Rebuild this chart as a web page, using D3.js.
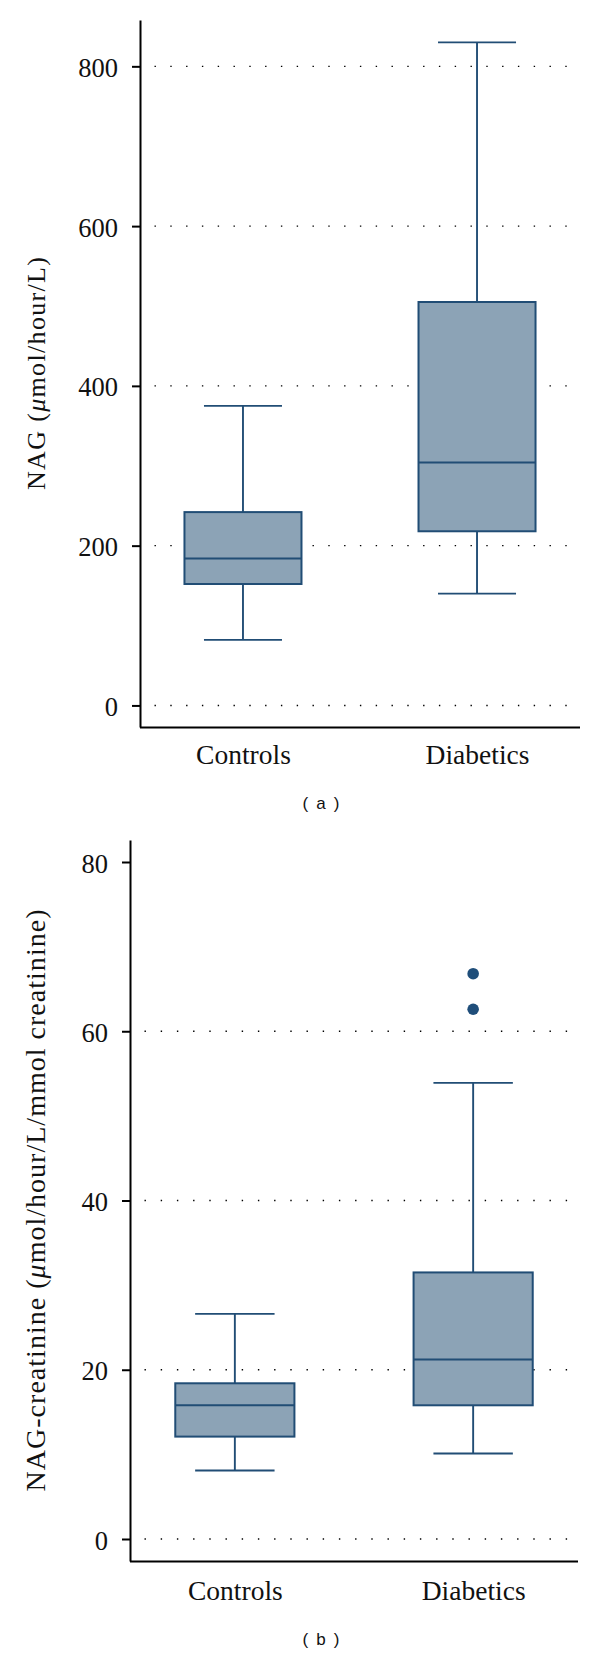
<!DOCTYPE html>
<html><head><meta charset="utf-8">
<script src="https://cdn.jsdelivr.net/npm/d3@7"></script>
<style>body{margin:0;background:#fff} svg{display:block}</style>
</head><body>
<svg id="chart" width="600" height="1656"></svg>
<script>
// ---- data ----
const categories = ["Controls", "Diabetics"];

// panel (a): NAG (µmol/hour/L)
const nagMin = [82, 140];
const nagQ1 = [152, 218];
const nagMedian = [184, 304];
const nagQ3 = [242, 505];
const nagMax = [375, 830];
const nagOutliers = [[], []];
const nagTicks = [0, 200, 400, 600, 800];
const nagGrid = [0, 200, 400, 600, 800];

// panel (b): NAG-creatinine (µmol/hour/L/mmol creatinine)
const ratioMin = [8.1, 10.1];
const ratioQ1 = [12.1, 15.8];
const ratioMedian = [15.8, 21.2];
const ratioQ3 = [18.4, 31.5];
const ratioMax = [26.6, 53.9];
const ratioOutliers = [[], [62.6, 66.8]];
const ratioTicks = [0, 20, 40, 60, 80];
const ratioGrid = [0, 20, 40, 60];

// ---- style ----
const FILL = "#8ca3b6";
const STROKE = "#214d75";
const SERIF = "'Liberation Serif', 'Times New Roman', serif";
const SANS = "'Liberation Sans', Arial, sans-serif";

const svg = d3.select("#chart");

function drawPanel(p) {
  const g = svg.append("g");
  const x = d3.scalePoint().domain(categories).range(p.xRange).padding(0.44);
  const y = d3.scaleLinear().domain(p.yDomain).range(p.yRange);
  const step = x.step();
  const boxW = step / 2, capW = step / 3;
  const x0 = p.xRange[0], x1 = p.xRange[1];

  // dotted grid
  g.append("g").selectAll("line").data(p.grid).join("line")
    .attr("x1", x0 + p.dotStart).attr("x2", x1)
    .attr("y1", d => y(d)).attr("y2", d => y(d))
    .attr("stroke", "#000").attr("stroke-width", 1.4)
    .attr("stroke-dasharray", `1.4 ${p.dotGap - 1.4}`);

  const rows = categories.map((c, i) => ({
    c, min: p.min[i], q1: p.q1[i], med: p.med[i], q3: p.q3[i], max: p.max[i], out: p.out[i]
  }));

  const bg = g.append("g").selectAll("g").data(rows).join("g");
  // whisker stems
  bg.append("line")
    .attr("x1", d => x(d.c)).attr("x2", d => x(d.c))
    .attr("y1", d => y(d.max)).attr("y2", d => y(d.q3))
    .attr("stroke", STROKE).attr("stroke-width", 1.9);
  bg.append("line")
    .attr("x1", d => x(d.c)).attr("x2", d => x(d.c))
    .attr("y1", d => y(d.q1)).attr("y2", d => y(d.min))
    .attr("stroke", STROKE).attr("stroke-width", 1.9);
  // caps
  ["max", "min"].forEach(k => {
    bg.append("line")
      .attr("x1", d => x(d.c) - capW / 2).attr("x2", d => x(d.c) + capW / 2)
      .attr("y1", d => y(d[k])).attr("y2", d => y(d[k]))
      .attr("stroke", STROKE).attr("stroke-width", 1.9);
  });
  // box
  bg.append("rect")
    .attr("x", d => x(d.c) - boxW / 2).attr("width", boxW)
    .attr("y", d => y(d.q3)).attr("height", d => y(d.q1) - y(d.q3))
    .attr("fill", FILL).attr("stroke", STROKE).attr("stroke-width", 2);
  // median
  bg.append("line")
    .attr("x1", d => x(d.c) - boxW / 2).attr("x2", d => x(d.c) + boxW / 2)
    .attr("y1", d => y(d.med)).attr("y2", d => y(d.med))
    .attr("stroke", STROKE).attr("stroke-width", 2);
  // outliers
  bg.selectAll("circle").data(d => d.out.map(v => ({ c: d.c, v }))).join("circle")
    .attr("cx", d => x(d.c)).attr("cy", d => y(d.v)).attr("r", 5.8)
    .attr("fill", "#1f4e7a");

  // y axis
  const ya = g.append("g").attr("transform", `translate(${x0},0)`)
    .call(d3.axisLeft(y).tickValues(p.ticks).tickSize(8).tickSizeOuter(0).tickPadding(14));
  ya.select(".domain").attr("stroke", "#000").attr("stroke-width", 2);
  ya.selectAll(".tick line").attr("stroke", "#000").attr("stroke-width", 2);
  ya.selectAll(".tick text").attr("font-family", SERIF).attr("font-size", 26.5)
    .attr("fill", "#111").attr("dy", "0.38em");

  // x axis
  const xa = g.append("g").attr("transform", `translate(0,${p.yRange[0]})`)
    .call(d3.axisBottom(x).tickSize(0).tickPadding(p.xPad).tickSizeOuter(0));
  xa.select(".domain").attr("stroke", "#000").attr("stroke-width", 2)
    .attr("d", `M${x0},0.5H${x1}`);
  xa.selectAll(".tick text").attr("font-family", SERIF).attr("font-size", 27.5).attr("fill", "#111");

  // y title
  const t = g.append("text")
    .attr("transform", `translate(${p.titleX},${(p.yRange[0] + p.yRange[1]) / 2}) rotate(-90)`)
    .attr("text-anchor", "middle").attr("font-family", SERIF).attr("font-size", p.titleSize)
    .attr("fill", "#111")
    .attr("textLength", p.titleLen).attr("lengthAdjust", "spacing");
  t.append("tspan").text(p.titleA);
  t.append("tspan").attr("font-style", "italic").text("μ");
  t.append("tspan").text(p.titleB);

  // caption
  g.append("text").attr("x", 321).attr("y", p.capY).attr("text-anchor", "middle")
    .attr("font-family", SANS).attr("font-size", 17).attr("fill", "#111")
    .attr("textLength", 37).attr("lengthAdjust", "spacing")
    .text(p.caption);
}

drawPanel({
  min: nagMin, q1: nagQ1, med: nagMedian, q3: nagQ3, max: nagMax, out: nagOutliers,
  ticks: nagTicks, grid: nagGrid,
  xRange: [140, 580], yDomain: [-27, 858], yRange: [727, 20],
  dotStart: 14.5, dotGap: 15.8, xPad: 17,
  titleX: 45, titleSize: 26, titleLen: 233, titleA: "NAG (", titleB: "mol/hour/L)",
  caption: "( a )", capY: 809
});

drawPanel({
  min: ratioMin, q1: ratioQ1, med: ratioMedian, q3: ratioQ3, max: ratioMax, out: ratioOutliers,
  ticks: ratioTicks, grid: ratioGrid,
  xRange: [130, 578], yDomain: [-2.6, 82.6], yRange: [1561, 840],
  dotStart: 14.5, dotGap: 16.2, xPad: 19,
  titleX: 45, titleSize: 28, titleLen: 582, titleA: "NAG-creatinine (", titleB: "mol/hour/L/mmol creatinine)",
  caption: "( b )", capY: 1645
});
</script>
</body></html>
